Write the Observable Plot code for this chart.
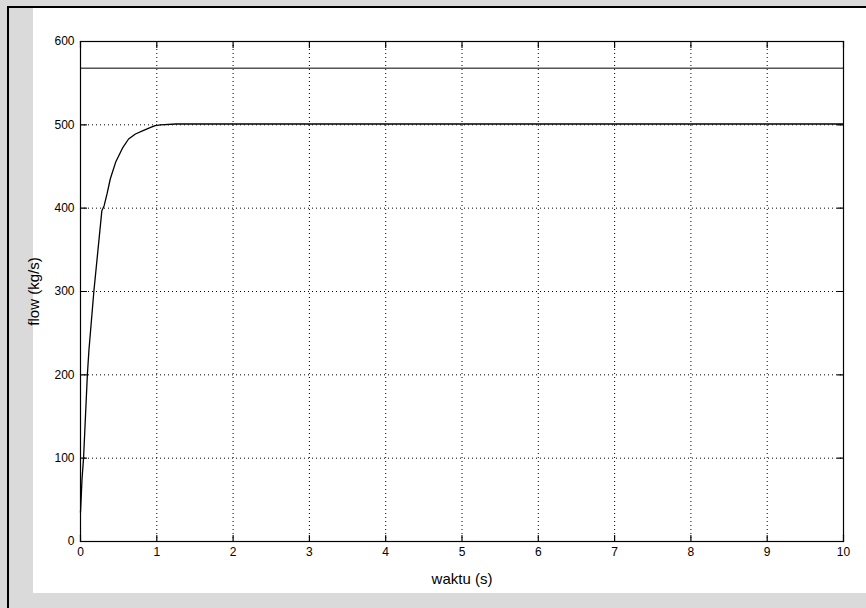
<!DOCTYPE html>
<html>
<head>
<meta charset="utf-8">
<script src="https://cdn.jsdelivr.net/npm/d3@7"></script>
<script src="https://cdn.jsdelivr.net/npm/@observablehq/plot@0.6"></script>
<style>
  body { margin: 0; background: #dadada; }
  #fig { position: relative; width: 866px; height: 608px; overflow: hidden; }
  #paper { position: absolute; left: 33px; top: 8px; width: 833px; height: 585px; background: #fff; }
  #edgeTop { position: absolute; left: 7px; top: 6px; width: 859px; height: 2px; background: #000; }
  #edgeLeft { position: absolute; left: 7px; top: 6px; width: 2px; height: 602px; background: #000; }
  #chart { position: absolute; left: 0; top: 0; }
</style>
</head>
<body>
<div id="fig">
  <div id="paper"></div>
  <div id="edgeTop"></div>
  <div id="edgeLeft"></div>
  <div id="chart"></div>
</div>
<script>
// Simulated mass flow response (time in seconds, flow in kg/s)
const time = [0, 0.02, 0.04, 0.09, 0.11, 0.175, 0.28, 0.31, 0.35, 0.39, 0.46, 0.55, 0.63, 0.72, 0.82, 0.92, 0.98, 1.05, 1.25, 2, 3, 4, 5, 6, 7, 8, 9, 10];
const flow = [35, 75, 100, 200, 229, 300, 397, 403, 418, 435, 455, 472, 483, 489, 493, 497, 499, 500, 501, 501, 501, 501, 501, 501, 501, 501, 501, 501];

// Upper flow limit drawn as a horizontal reference line
const flowLimit = [568];

// Axis ticks
const xTicks = [0, 1, 2, 3, 4, 5, 6, 7, 8, 9, 10];
const yTicks = [0, 100, 200, 300, 400, 500, 600];

const response = time.map((t, i) => ({t, flow: flow[i]}));

// a plain line segment used for the inward tick marks
const tickShape = {draw(context, l) { context.moveTo(0, 0); context.lineTo(0, -l); }};
const inwardTicks = (data, opts) => Plot.vector(data, {length: 6, anchor: "start", shape: tickShape, stroke: "#000", strokeWidth: 1.2, ...opts});

const chart = Plot.plot({
  width: 866,
  height: 608,
  marginLeft: 80,
  marginRight: 23,
  marginTop: 41,
  marginBottom: 67,
  style: {fontFamily: "'Liberation Sans', Arial, sans-serif", fontSize: "12px", color: "#000", background: "transparent", overflow: "visible"},
  x: {domain: [0, 10], ticks: xTicks},
  y: {domain: [0, 600], ticks: yTicks},
  marks: [
    Plot.gridX(xTicks, {stroke: "#000", strokeOpacity: 1, strokeDasharray: "1,3"}),
    Plot.gridY(yTicks, {stroke: "#000", strokeOpacity: 1, strokeDasharray: "1,3"}),
    Plot.ruleY(flowLimit, {stroke: "#000", strokeWidth: 1}),
    Plot.line(response, {x: "t", y: "flow", stroke: "#000", strokeWidth: 1.3}),
    Plot.frame({stroke: "#000", strokeWidth: 1.2}),
    // inward tick marks on all four sides
    inwardTicks(xTicks, {x: d => d, y: () => 0, rotate: 0}),
    inwardTicks(xTicks, {x: d => d, y: () => 600, rotate: 180}),
    inwardTicks(yTicks, {x: () => 0, y: d => d, rotate: 90}),
    inwardTicks(yTicks, {x: () => 10, y: d => d, rotate: -90}),
    // tick labels and axis titles
    Plot.axisX(xTicks, {anchor: "bottom", tickSize: 0, tickPadding: 6, label: "waktu (s)", labelArrow: "none", labelAnchor: "center", labelOffset: 42, fontSize: 12}),
    Plot.axisY(yTicks, {anchor: "left", tickSize: 0, tickPadding: 6, label: "flow (kg/s)", labelArrow: "none", labelAnchor: "center", labelOffset: 52, fontSize: 12})
  ]
});

// larger axis titles, without direction arrows
chart.querySelectorAll("g[aria-label='x-axis label'] text, g[aria-label='y-axis label'] text").forEach(t => {
  t.setAttribute("font-size", "15");
  t.textContent = t.textContent.replace(/\s*[→↑←↓]\s*/g, "").trim();
});

document.getElementById("chart").appendChild(chart);
</script>
</body>
</html>
